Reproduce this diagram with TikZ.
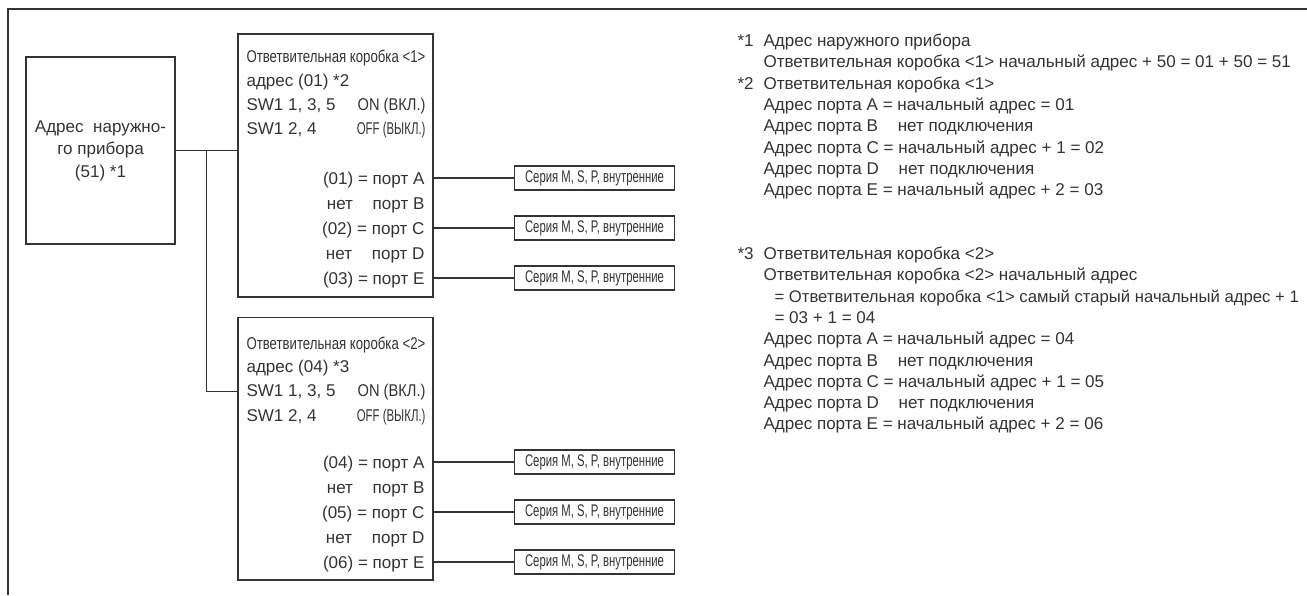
\documentclass[tikz,border=0pt]{standalone}
\usepackage{fontspec}
\setmainfont{Liberation Sans}
\newfontfamily\narrowfont[FakeStretch=0.67]{Liberation Sans}
\newfontfamily\semifont[FakeStretch=0.775]{Liberation Sans}
\newfontfamily\onfont[FakeStretch=0.86]{Liberation Sans}
\usetikzlibrary{positioning,calc}

\begin{document}
\begin{tikzpicture}[x=0.02cm,y=-0.02cm,
  color=black!80,line width=0.6pt,
  box/.style={draw,inner sep=0pt},
  txt/.style={inner sep=0pt,font=\fontsize{9.7}{12}\selectfont},
  ltxt/.style={txt,anchor=base west},
  rtxt/.style={txt,anchor=base east},
  ntxt/.style={inner sep=0pt,font=\narrowfont\fontsize{9.7}{12}\selectfont},
  stxt/.style={inner sep=0pt,font=\semifont\fontsize{9.7}{12}\selectfont},
  otxt/.style={inner sep=0pt,anchor=base east,font=\onfont\fontsize{9.7}{12}\selectfont},
  idu/.style={draw,minimum width=3.2cm,minimum height=0.48cm,inner sep=0pt,
    font=\narrowfont\fontsize{9.6}{10}\selectfont},
  note/.style={inner sep=0pt,anchor=north west,font=\fontsize{9.7}{12.13}\selectfont},
]
\useasboundingbox (0,0) rectangle (1307,595);
% frame
\draw[line width=0.9pt] (8,595) -- (8,9) -- (1307,9);
% outdoor unit
\node[box,minimum width=2.98cm,minimum height=3.74cm,align=center,
  font=\fontsize{9.7}{12.8}\selectfont] (odu) at (100.5,150.5)
  {Адрес\ \ наружно-\\го прибора\\(51) *1};
% branch box <1>
\node[box,minimum width=3.9cm,minimum height=5.26cm] (bj1) at (335.5,165.5) {};
\node[stxt,anchor=base west] (bj1t) at (246,62) {Ответвительная коробка <1>};
\node[ltxt] (bj1a) at (246,86) {адрес (01) *2};
\node[ltxt] (bj1s) at (246,110) {SW1 1, 3, 5};
\node[otxt] (bj1on) at (426,110) {ON (ВКЛ.)};
\node[ltxt] (bj1r) at (246,134) {SW1 2, 4};
\node[ntxt,anchor=base east] (bj1off) at (426,134) {OFF (ВЫКЛ.)};
\node[rtxt] (p1a) at (425,184) {(01) = порт A};
\node[rtxt] (p1b) at (425,209) {нет\hspace{0.3cm} порт B};
\node[rtxt] (p1c) at (425,234) {(02) = порт C};
\node[rtxt] (p1d) at (425,259) {нет\hspace{0.3cm} порт D};
\node[rtxt] (p1e) at (425,284) {(03) = порт E};
% branch box <2>
\node[box,minimum width=3.9cm,minimum height=5.26cm] (bj2) at (335.5,448.5) {};
\node[stxt,anchor=base west] (bj2t) at (246,349) {Ответвительная коробка <2>};
\node[ltxt] (bj2a) at (246,372) {адрес (04) *3};
\node[ltxt] (bj2s) at (246,396) {SW1 1, 3, 5};
\node[otxt] (bj2on) at (426,396) {ON (ВКЛ.)};
\node[ltxt] (bj2r) at (246,421) {SW1 2, 4};
\node[ntxt,anchor=base east] (bj2off) at (426,421) {OFF (ВЫКЛ.)};
\node[rtxt] (p2a) at (425,468) {(04) = порт A};
\node[rtxt] (p2b) at (425,493) {нет\hspace{0.3cm} порт B};
\node[rtxt] (p2c) at (425,518) {(05) = порт C};
\node[rtxt] (p2d) at (425,543) {нет\hspace{0.3cm} порт D};
\node[rtxt] (p2e) at (425,568) {(06) = порт E};
% transmission line
\draw (odu.east) -- (odu.east -| bj1.west);
\coordinate (jn) at ($(odu.east)!0.5!(odu.east -| bj1.west)$);
\draw (jn) |- (bj2.west |- bj2s);
% indoor units
\node[idu] (i1a) at (594.5,178) {Серия M, S, P, внутренние};
\node[idu] (i1c) at (594.5,228) {Серия M, S, P, внутренние};
\node[idu] (i1e) at (594.5,278) {Серия M, S, P, внутренние};
\node[idu] (i2a) at (594.5,462) {Серия M, S, P, внутренние};
\node[idu] (i2c) at (594.5,512) {Серия M, S, P, внутренние};
\node[idu] (i2e) at (594.5,562) {Серия M, S, P, внутренние};
\draw (i1a.west) -- (i1a.west -| bj1.east);
\draw (i1c.west) -- (i1c.west -| bj1.east);
\draw (i1e.west) -- (i1e.west -| bj1.east);
\draw (i2a.west) -- (i2a.west -| bj2.east);
\draw (i2c.west) -- (i2c.west -| bj2.east);
\draw (i2e.west) -- (i2e.west -| bj2.east);
% notes
\node[note] (n12) at (737,31) {\begin{tabular}{@{}p{0.52cm}@{}l@{}}
*1 & Адрес наружного прибора\\
   & Ответвительная коробка <1> начальный адрес + 50 = 01 + 50 = 51\\
\relax *2 & Ответвительная коробка <1>\\
   & Адрес порта A = начальный адрес = 01\\
   & Адрес порта B\hspace{0.3cm} нет подключения\\
   & Адрес порта C = начальный адрес + 1 = 02\\
   & Адрес порта D\hspace{0.3cm} нет подключения\\
   & Адрес порта E = начальный адрес + 2 = 03
\end{tabular}};
\node[note] (n3) at (737,244) {\begin{tabular}{@{}p{0.52cm}@{}l@{}}
*3 & Ответвительная коробка <2>\\
   & Ответвительная коробка <2> начальный адрес\\
   & \hspace*{0.22cm}{\fontsize{9.5}{12.13}\selectfont = Ответвительная коробка <1> самый старый начальный адрес + 1}\\
   & \hspace*{0.22cm}= 03 + 1 = 04\\
   & Адрес порта A = начальный адрес = 04\\
   & Адрес порта B\hspace{0.3cm} нет подключения\\
   & Адрес порта C = начальный адрес + 1 = 05\\
   & Адрес порта D\hspace{0.3cm} нет подключения\\
   & Адрес порта E = начальный адрес + 2 = 06
\end{tabular}};
\end{tikzpicture}
\end{document}
